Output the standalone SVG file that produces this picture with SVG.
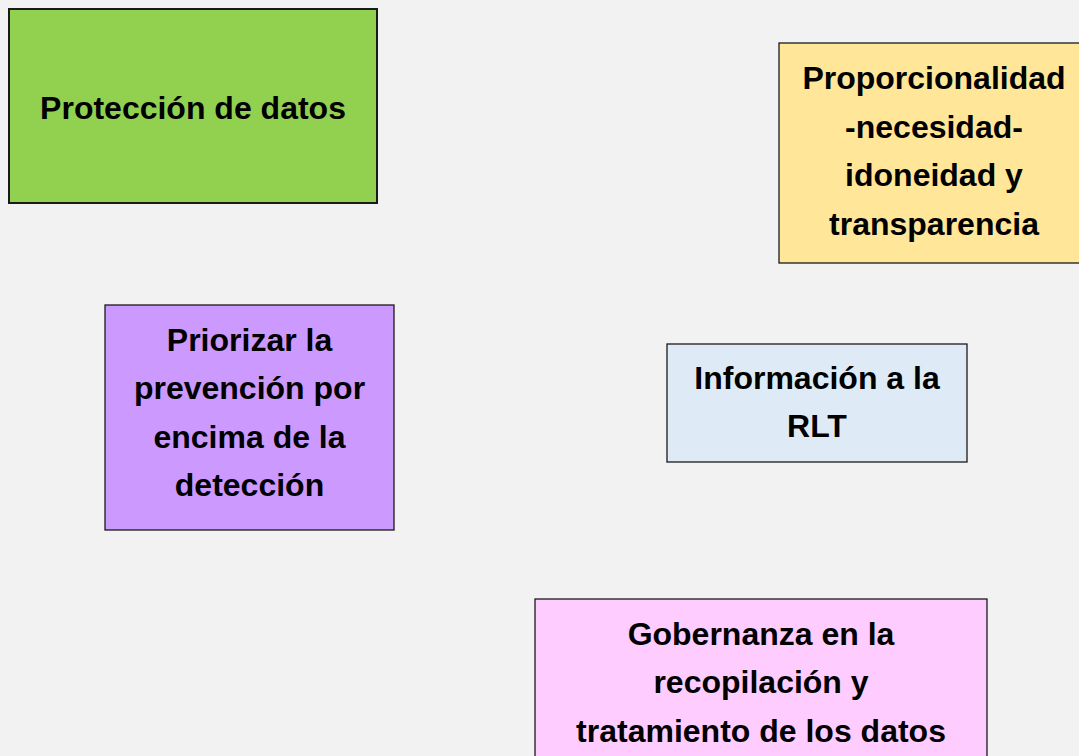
<svg xmlns="http://www.w3.org/2000/svg" width="1079" height="756" viewBox="0 0 1079 756">
<style>
.box{stroke:#1a1a1a;stroke-width:1.3}
.t{font-family:"Liberation Sans",Arial,sans-serif;font-weight:bold;font-size:32px;fill:#000;text-anchor:middle}
</style>
<rect x="0" y="0" width="1079" height="756" fill="#f2f2f2"/>
<g id="node-proteccion">
<rect class="box" x="9" y="9" width="368" height="194" fill="#92d050" style="stroke-width:2"/>
<text class="t" x="193" y="119">Protección de datos</text>
</g>
<g id="node-proporcionalidad">
<rect class="box" x="779" y="43" width="320" height="220" fill="#ffe699"/>
<text class="t" x="934" y="89">Proporcionalidad</text>
<text class="t" x="934" y="138">-necesidad-</text>
<text class="t" x="934" y="186">idoneidad y</text>
<text class="t" x="934" y="235">transparencia</text>
</g>
<g id="node-priorizar">
<rect class="box" x="105" y="305" width="289" height="225" fill="#cc99ff"/>
<text class="t" x="249.5" y="351">Priorizar la</text>
<text class="t" x="249.5" y="399">prevención por</text>
<text class="t" x="249.5" y="448">encima de la</text>
<text class="t" x="249.5" y="496">detección</text>
</g>
<g id="node-informacion">
<rect class="box" x="667" y="344" width="300" height="118" fill="#deebf7"/>
<text class="t" x="817" y="389">Información a la</text>
<text class="t" x="817" y="437">RLT</text>
</g>
<g id="node-gobernanza">
<rect class="box" x="535" y="599" width="452" height="180" fill="#ffccff"/>
<text class="t" x="761" y="645">Gobernanza en la</text>
<text class="t" x="761" y="693">recopilación y</text>
<text class="t" x="761" y="742">tratamiento de los datos</text>
</g>
<g id="connectors"></g>
</svg>
